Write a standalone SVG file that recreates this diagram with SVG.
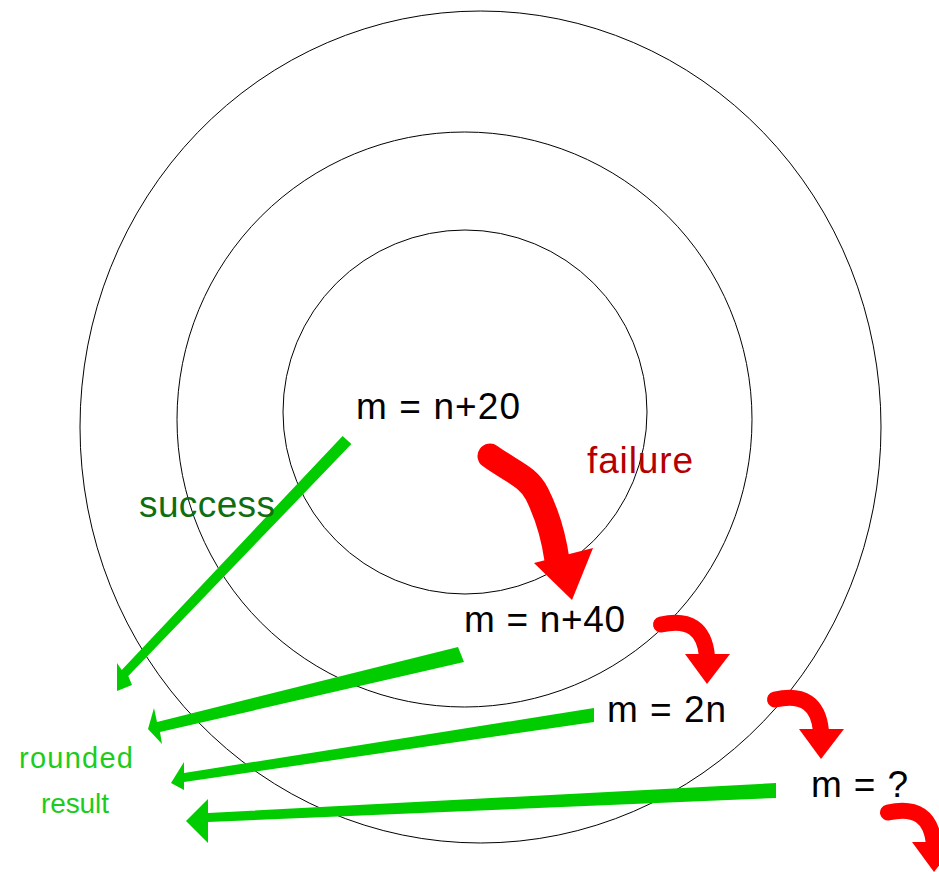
<svg xmlns="http://www.w3.org/2000/svg" width="939" height="872" viewBox="0 0 939 872">
<style>
.ring{fill:none;stroke:#000;stroke-width:1}
.lbl{font-family:"Liberation Sans",Arial,sans-serif;font-size:37px;fill:#000}
.gth{font-family:"Liberation Sans",Arial,sans-serif}
.red{fill:none;stroke:#ff0000;stroke-linecap:round}
.redh{fill:#ff0000}
.grn{fill:#00cc00}
</style>
<rect width="939" height="872" fill="#fff"/>
<g id="rings">
<ellipse class="ring" cx="480.5" cy="427" rx="400.5" ry="416"/>
<circle class="ring" cx="464.5" cy="419.5" r="287.5"/>
<circle class="ring" cx="465" cy="412" r="182"/>
</g>
<g id="connectors">
<polygon class="grn" points="342.6,435.9 351.4,444.1 128.3,676 132,685 117,691 117,663 121.7,670"/>
<polygon class="grn" points="458,647 464,662 160,732 162,744 148,729 154,708 157,722"/>
<polygon class="grn" points="594,708 594,722 184,782 184,790 171,783 184,762 184,773"/>
<polygon class="grn" points="776,783 776,798 208,822 208,843 186,821 208,799 208,813"/>
<path class="red" stroke-width="25" d="M490 456 C512 472 528 476 537 494 S553 532 557 560"/>
<polygon class="redh" points="534,563 593,548 572,600"/>
<path class="red" stroke-width="16" d="M661 624.5 Q703 615 707 656"/>
<polygon class="redh" points="685,654 730,654 707,684"/>
<path class="red" stroke-width="16" d="M775 699.5 Q817 690 821 731"/>
<polygon class="redh" points="799,729 844,729 821,759"/>
<path class="red" stroke-width="16" d="M888 812.5 Q930 803 934 844"/>
<polygon class="redh" points="912,842 957,842 934,872"/>
</g>
<g id="node-n20"><text class="lbl" x="356" y="419" textLength="164">m = n+20</text></g>
<g id="node-n40"><text class="lbl" x="464" y="632" textLength="161">m = n+40</text></g>
<g id="node-2n"><text class="lbl" x="607" y="722" textLength="119">m = 2n</text></g>
<g id="node-q"><text class="lbl" x="811" y="797" textLength="97">m = ?</text></g>
<g id="label-success"><text class="gth" x="139" y="517" font-size="37" fill="#0f6e0f" textLength="136">success</text></g>
<g id="label-failure"><text class="gth" x="587" y="473" font-size="37" fill="#b40000" textLength="106">failure</text></g>
<g id="label-result">
<text class="gth" x="19" y="768" font-size="29" fill="#1ccc1c" textLength="114">rounded</text>
<text class="gth" x="41" y="813" font-size="28" fill="#1ccc1c" textLength="68">result</text>
</g>
</svg>
